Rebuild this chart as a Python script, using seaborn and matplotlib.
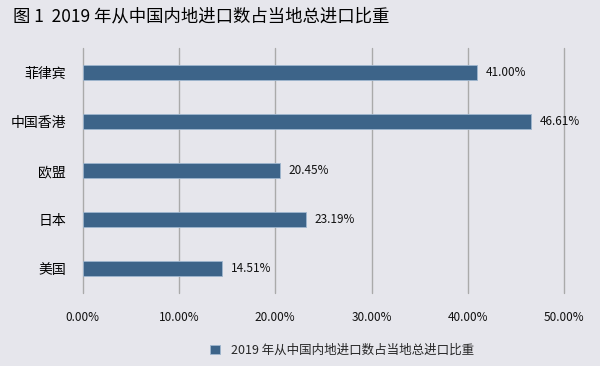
import matplotlib.pyplot as plt
import seaborn as sns
import pandas as pd

regions = ["菲律宾", "中国香港", "欧盟", "日本", "美国"]
shares = [41.00, 46.61, 20.45, 23.19, 14.51]
xticks = [0, 10, 20, 30, 40, 50]
series_name = "2019 年从中国内地进口数占当地总进口比重"
title = "图 1  2019 年从中国内地进口数占当地总进口比重"

df = pd.DataFrame({"region": regions, "share": shares, "series": series_name})

bg = "#e6e6ec"
bar_color = "#3d6489"

sns.set_style("white")
plt.rcParams["font.family"] = ["Noto Sans CJK SC", "DejaVu Sans"]

fig = plt.figure(figsize=(6, 3.66), dpi=100, facecolor=bg)
ax = fig.add_axes([0.138, 0.2, 0.802, 0.668])
ax.set_facecolor(bg)

sns.barplot(data=df, x="share", y="region", hue="series", orient="h", saturation=1,
            palette=[bar_color], width=0.31, edgecolor="#9fb6cf", linewidth=0.6, ax=ax)

for i, v in enumerate(shares):
    ax.text(v + 0.9, i, f"{v:.2f}%", va="center", ha="left", fontsize=8.5, color="#111111")

ax.set_xlim(0, 50)
ax.set_ylim(4.5, -0.5)
ax.set_xticks(xticks)
ax.set_xticklabels([f"{t:.2f}%" for t in xticks], fontsize=8.5, color="#111111")
ax.tick_params(axis="x", length=0, pad=13)
ax.tick_params(axis="y", length=0, pad=12, labelsize=10, labelcolor="#000000")
ax.grid(axis="x", color="#aaaaaa", linewidth=1)
for gl in ax.get_xgridlines():
    gl.set_clip_on(False)
ax.set_axisbelow(True)
for s in ax.spines.values():
    s.set_visible(False)
ax.set_xlabel("")
ax.set_ylabel("")

leg = ax.legend(loc="center", bbox_to_anchor=((342 / 600 - 0.138) / 0.802, -0.235),
                frameon=False, fontsize=9, handlelength=0.8, handleheight=0.8, handletextpad=0.9)

fig.text(0.022, 0.955, title, fontsize=12.5, va="center", ha="left", color="#000000")

plt.savefig("out.png", dpi=100, facecolor=bg)
